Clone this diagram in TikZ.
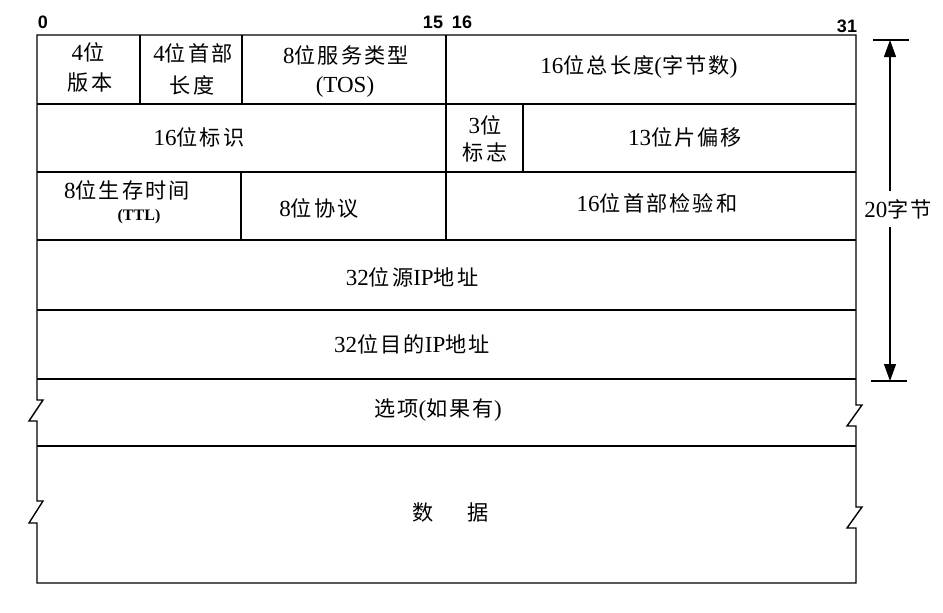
\documentclass[tikz,border=0pt]{standalone}
\usepackage{fontspec}
\setmainfont{Liberation Serif}
\newfontfamily\cjk{Noto Sans CJK SC}[Scale=0.92,LetterSpace=10]
\newfontfamily\labfont{Liberation Sans}
\usetikzlibrary{arrows.meta}
\newcommand\zh[1]{{\cjk #1}}
\begin{document}
\begin{tikzpicture}[x=1pt,y=-1pt,
  txt/.style={inner sep=0pt, font=\fontsize{23}{26}\selectfont},
  ttl/.style={inner sep=0pt, font=\bfseries\fontsize{16}{19}\selectfont},
  bitlab/.style={inner sep=0pt, font=\labfont\bfseries\fontsize{18}{21}\selectfont},
  frame/.style={line width=1.4pt, line join=miter},
  rule/.style={line width=1.3pt},
  dim/.style={line width=1.2pt},
  tip/.tip={Triangle[length=17pt,width=12pt]}]
\useasboundingbox (0,0) rectangle (943,613);

% outer frame with break marks
\draw[frame] (37,35) -- (856,35) -- (856,405) -- (862,405) -- (847,426) -- (856,426)
  -- (856,507) -- (862,507) -- (847,528) -- (856,528) -- (856,583) -- (37,583)
  -- (37,523) -- (29,523) -- (43,501) -- (37,501) -- (37,421) -- (29,421)
  -- (43,400) -- (37,400) -- cycle;

% row lines
\foreach \y in {104,172,240,310,379,446} \draw[rule] (37,\y) -- (856,\y);

% column dividers
\draw[rule] (140,35) -- (140,104);
\draw[rule] (242,35) -- (242,104);
\draw[rule] (446,35) -- (446,240);
\draw[rule] (523,104) -- (523,172);
\draw[rule] (241,172) -- (241,240);

% bit labels
\node[bitlab] (b0) at (43,22) {0};
\node[bitlab] (b15) at (433,22) {15};
\node[bitlab] (b16) at (462,22) {16};
\node[bitlab] (b31) at (847,26) {31};

% row 1
\node[txt] (ver1) at (88,52) {4\zh{位}};
\node[txt] (ver2) at (90,82) {\zh{版本}};
\node[txt] (hl1) at (193,53) {4\zh{位首部}};
\node[txt] (hl2) at (192,85) {\zh{长度}};
\node[txt] (tos1) at (346,55) {8\zh{位服务类型}};
\node[txt] (tos2) at (345,87) {(TOS)};
\node[txt] (len) at (639,67) {16\zh{位总长度}(\zh{字节数})};

% row 2
\node[txt] (id) at (199,137) {16\zh{位标识}};
\node[txt] (fl1) at (485,125) {3\zh{位}};
\node[txt] (fl2) at (485,152) {\zh{标志}};
\node[txt] (off) at (685,137) {13\zh{位片偏移}};

% row 3
\node[txt] (ttl1) at (127,190) {8\zh{位生存时间}};
\node[ttl] (ttl2) at (139,217) {(TTL)};
\node[txt] (prot) at (319,208) {8\zh{位协议}};
\node[txt] (csum) at (657,203) {16\zh{位首部检验和}};

% rows 4-7
\node[txt] (src) at (412,277) {32\zh{位源}IP\zh{地址}};
\node[txt] (dst) at (412,344) {32\zh{位目的}IP\zh{地址}};
\node[txt] (opt) at (438,410) {\zh{选项}(\zh{如果有})};
\node[txt] (data) at (451,512) {\zh{数}\hspace{34pt}\zh{据}};

% 20-byte dimension
\coordinate (atop) at (890,40);
\coordinate (abot) at (890,381);
\coordinate (tl) at (873,40);
\coordinate (tr) at (909,40);
\coordinate (bl) at (871,381);
\coordinate (br) at (907,381);
\draw[dim] (tl) -- (tr);
\draw[dim] (bl) -- (br);
\draw[dim, tip-tip] (atop) -- (abot);
\node[txt, fill=white, inner ysep=8pt, inner xsep=1pt] (twenty) at (898,209) {20\zh{字节}};
\end{tikzpicture}
\end{document}
